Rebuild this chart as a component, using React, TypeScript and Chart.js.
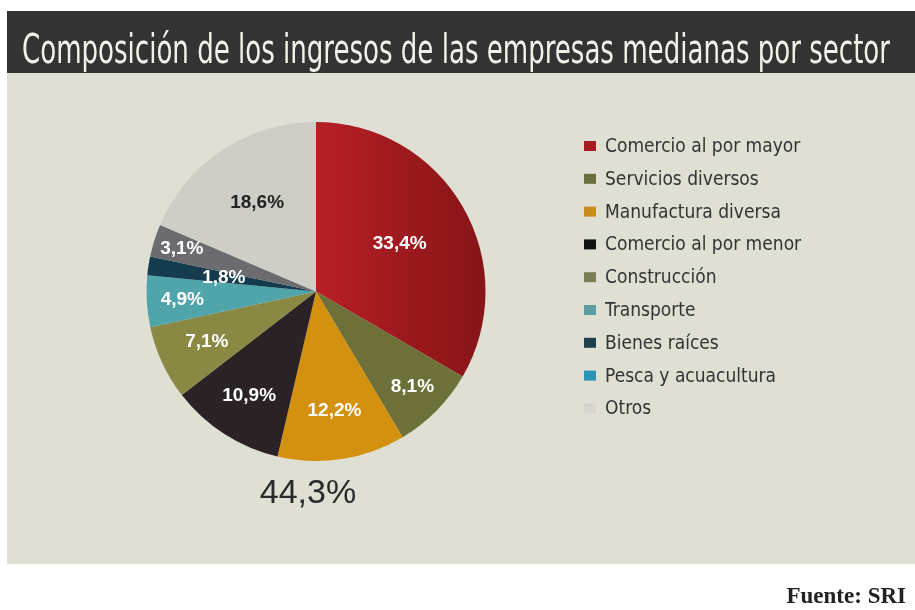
import React, { useEffect, useRef } from "react";
import { Chart, registerables } from "chart.js";

Chart.register(...registerables);

const TITLE = "Composición de los ingresos de las empresas medianas por sector";
const SOURCE = "Fuente: SRI";
const TOTAL_LABEL = "44,3%";

const sectors = [
  "Comercio al por mayor",
  "Servicios diversos",
  "Manufactura diversa",
  "Comercio al por menor",
  "Construcción",
  "Transporte",
  "Bienes raíces",
  "Pesca y acuacultura",
  "Otros",
];

const shares = [33.4, 8.1, 12.2, 10.9, 7.1, 4.9, 1.8, 3.1, 18.6];

const sliceColors = [
  "#a51b21",
  "#6d7139",
  "#d4900f",
  "#2a2224",
  "#8a8944",
  "#4fa5aa",
  "#143c4e",
  "#6c6b70",
  "#cfcec6",
];

const legendColors = [
  "#a51c24",
  "#6b6f42",
  "#c98b1e",
  "#111111",
  "#7b7d55",
  "#5c9ea0",
  "#1f3f4b",
  "#2a93b8",
  "#d6d6ce",
];

const labelTextColors = ["#fff", "#fff", "#fff", "#fff", "#fff", "#fff", "#fff", "#fff", "#222"];

const decorPlugin = {
  id: "decor",
  beforeDraw(chart: any) {
    const ctx = chart.ctx;
    ctx.save();
    ctx.fillStyle = "#ffffff";
    ctx.fillRect(0, 0, chart.width, chart.height);
    ctx.fillStyle = "#dfdfd3";
    ctx.fillRect(7, 73, chart.width - 7, 491);
    ctx.fillStyle = "#333333";
    ctx.fillRect(7, 11, chart.width - 7, 62);
    ctx.fillStyle = "#f2f2ea";
    ctx.font = "40px 'Liberation Sans Narrow', 'DejaVu Sans Condensed', sans-serif";
    ctx.textBaseline = "alphabetic";
    ctx.textAlign = "left";
    ctx.fillText(TITLE, 22, 63, 868);
    ctx.restore();
  },
  afterDraw(chart: any) {
    const ctx = chart.ctx;
    ctx.save();
    const meta = chart.getDatasetMeta(0);
    const factors = chart.options.plugins.decor.labelRadius;
    ctx.font = "bold 19px 'Liberation Sans', Arial, sans-serif";
    ctx.textAlign = "center";
    ctx.textBaseline = "middle";
    meta.data.forEach((arc: any, i: number) => {
      const p = arc.getProps(["x", "y", "startAngle", "endAngle", "outerRadius"], true);
      const mid = (p.startAngle + p.endAngle) / 2;
      const r = p.outerRadius * factors[i];
      const x = p.x + Math.cos(mid) * r;
      const y = p.y + Math.sin(mid) * r;
      const txt = shares[i].toFixed(1).replace(".", ",") + "%";
      ctx.fillStyle = labelTextColors[i];
      ctx.fillText(txt, x, y);
    });
    ctx.fillStyle = "#2a2a2a";
    ctx.font = "34px 'Liberation Sans', Arial, sans-serif";
    ctx.textAlign = "center";
    ctx.textBaseline = "alphabetic";
    ctx.fillText(TOTAL_LABEL, 308, 503);
    ctx.textAlign = "left";
    ctx.textBaseline = "middle";
    ctx.font = "19px 'Liberation Sans Narrow', 'DejaVu Sans Condensed', sans-serif";
    sectors.forEach((s, i) => {
      const cy = 146 + i * 32.8;
      ctx.fillStyle = legendColors[i];
      ctx.fillRect(584, cy - 5, 12, 10);
      ctx.fillStyle = "#333333";
      ctx.fillText(s, 605, cy + 1);
    });
    ctx.fillStyle = "#222";
    ctx.font = "bold 23px 'Liberation Serif', 'DejaVu Serif', serif";
    ctx.textAlign = "right";
    ctx.textBaseline = "alphabetic";
    ctx.fillText(SOURCE, 906, 603);
    ctx.restore();
  },
};

export default function App() {
  const ref = useRef<HTMLCanvasElement>(null);
  useEffect(() => {
    if (!ref.current) return;
    const chart = new Chart(ref.current, {
      type: "pie",
      data: {
        labels: sectors,
        datasets: [
          {
            data: shares,
            backgroundColor: (c: any) => {
              const i = c.dataIndex;
              if (i === 0 && c.chart.chartArea) {
                const a = c.chart.chartArea;
                const g = c.chart.ctx.createLinearGradient((a.left + a.right) / 2, 0, a.right, 0);
                g.addColorStop(0, "#b71f25");
                g.addColorStop(1, "#861417");
                return g;
              }
              return sliceColors[i];
            },
            borderWidth: 0,
          },
        ],
      },
      options: {
        responsive: false,
        animation: false,
        layout: { padding: { left: 146, right: 429, top: 122, bottom: 149 } },
        plugins: {
          legend: { display: false },
          tooltip: { enabled: false },
          title: { display: false },
          decor: { labelRadius: [0.57, 0.8, 0.71, 0.73, 0.71, 0.79, 0.55, 0.83, 0.63] },
        } as any,
      },
      plugins: [decorPlugin],
    });
    return () => chart.destroy();
  }, []);
  return (
    <div style={{ position: "fixed", left: 0, top: 0, width: 915, height: 610 }}>
      <canvas ref={ref} width={915} height={610} style={{ width: 915, height: 610 }} />
    </div>
  );
}
